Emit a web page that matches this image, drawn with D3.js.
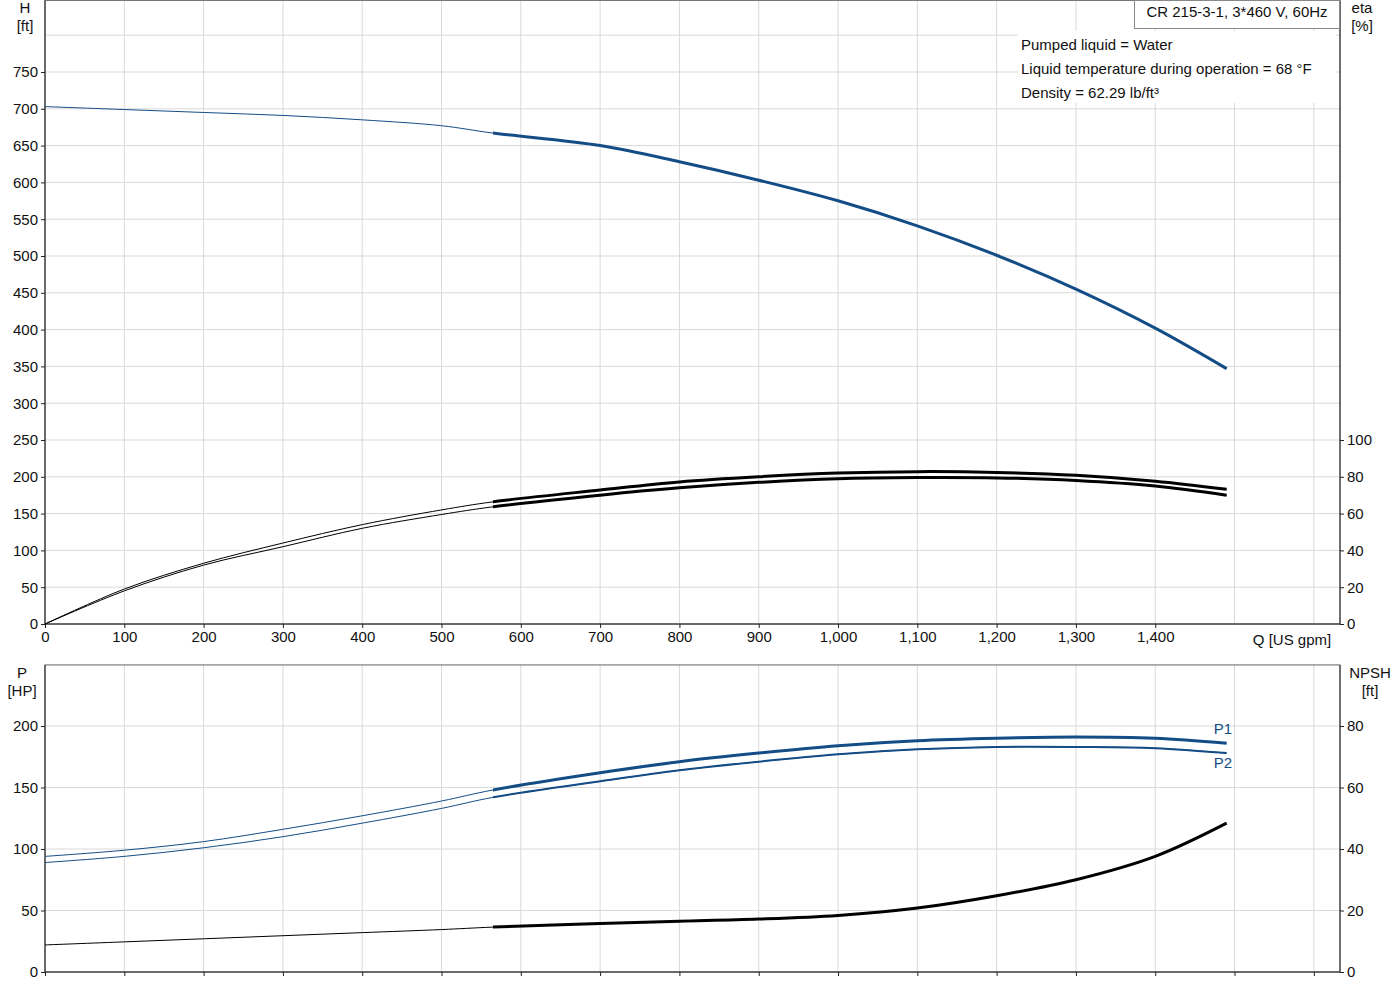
<!DOCTYPE html>
<html><head><meta charset="utf-8">
<script src="https://cdn.jsdelivr.net/npm/d3@7"></script>
<style>body{margin:0;background:#fff}text{font-family:Arial,"Liberation Sans",sans-serif;font-size:15px;fill:#111}</style>
</head><body><svg id="c" width="1400" height="1000"></svg>
<script>
const qTicks=[0,100,200,300,400,500,600,700,800,900,1000,1100,1200,1300,1400];
const qGrid=[0,100,200,300,400,500,600,700,800,900,1000,1100,1200,1300,1400,1500,1600];
const hTicks=[0,50,100,150,200,250,300,350,400,450,500,550,600,650,700,750];
const etaTicks=[0,20,40,60,80,100];
const pTicks=[0,50,100,150,200];
const npshTicks=[0,20,40,60,80];
const qPts=[0,100,200,300,400,500,565,700,800,900,1000,1100,1200,1300,1400,1490];
const H=[703,699,695,691,685,677,667,650,628,603,575,541,501,455,402,347];
const eta1=[0,19,33,44,54,62,66.4,72.8,77.2,80,82,82.8,82.4,80.8,77.6,73.2];
const eta2=[0,18,32,42,52,59.5,63.7,70,74,77,79,79.6,79.4,78,75,70];
const P1=[94,99,106,116,127,139,148,162,171,178,184,188,190,191,190,186];
const P2=[89,94,101,110,121,133,142,155,164,171,177,181,183,183,182,178];
const NPSH=[8.8,9.8,10.8,11.8,12.8,13.8,14.6,15.8,16.5,17.2,18.4,20.8,24.8,30,37.6,48.4];
const BREAK=565;
const svg=d3.select("#c");
const L=45,R=1340;
const x=d3.scaleLinear().domain([0,1633]).range([L,R]);
const yH=d3.scaleLinear().domain([0,750]).range([624,72]);
const yE=d3.scaleLinear().domain([0,100]).range([624,440]);
const yP=d3.scaleLinear().domain([0,200]).range([972,726]);
const yN=d3.scaleLinear().domain([0,80]).range([972,726]);
const grid="#d9d9d9";
svg.append("defs").append("clipPath").attr("id","thick").append("rect").attr("x",x(BREAK)).attr("y",0).attr("width",R-x(BREAK)).attr("height",1000);
function panel(top,bot,yl,lt){
  qGrid.forEach(q=>svg.append("line").attr("x1",x(q)).attr("x2",x(q)).attr("y1",top).attr("y2",bot).attr("stroke",grid));
  lt.forEach(v=>svg.append("line").attr("x1",L).attr("x2",R).attr("y1",yl(v)).attr("y2",yl(v)).attr("stroke",grid));
  svg.append("rect").attr("x",L).attr("y",top).attr("width",R-L).attr("height",bot-top).attr("fill","none").attr("stroke","#777");
  svg.append("line").attr("x1",L).attr("x2",R).attr("y1",bot).attr("y2",bot).attr("stroke","#222");
  svg.append("line").attr("x1",L).attr("x2",L).attr("y1",top).attr("y2",bot).attr("stroke","#222");
  svg.append("line").attr("x1",R).attr("x2",R).attr("y1",top).attr("y2",bot).attr("stroke","#222");
}
panel(0.5,624,yH,hTicks.concat([800]));
panel(665,972,yP,pTicks.concat([250]));
svg.append("g").attr("transform",`translate(${L},0)`).call(d3.axisLeft(yH).tickValues(hTicks).tickSize(4).tickFormat(d3.format("d")));
svg.append("g").attr("transform",`translate(${R},0)`).call(d3.axisRight(yE).tickValues(etaTicks).tickSize(4));
svg.append("g").attr("transform",`translate(0,624)`).call(d3.axisBottom(x).tickValues(qTicks).tickSize(4).tickFormat(d3.format(",")));
svg.append("g").attr("transform",`translate(${L},0)`).call(d3.axisLeft(yP).tickValues(pTicks).tickSize(4));
svg.append("g").attr("transform",`translate(${R},0)`).call(d3.axisRight(yN).tickValues(npshTicks).tickSize(4));
svg.append("g").attr("transform",`translate(0,972)`).call(d3.axisBottom(x).tickValues(qGrid).tickSize(4).tickFormat(""));
svg.selectAll(".domain").remove();
svg.selectAll(".tick text").style("font-size","15px").attr("fill","#111");
svg.selectAll(".tick line").attr("stroke","#222");
function curve(vals,y,color,w2){
  const pts=qPts.map((q,i)=>[q,vals[i]]);
  const d=d3.line().x(p=>x(p[0])).y(p=>y(p[1])).curve(d3.curveCatmullRom.alpha(0.5))(pts);
  svg.append("path").attr("d",d).attr("fill","none").attr("stroke",color).attr("stroke-width",1);
  svg.append("path").attr("d",d).attr("fill","none").attr("stroke",color).attr("stroke-width",w2).attr("clip-path","url(#thick)");
}
const blue="#144c86";
curve(H,yH,blue,3);
curve(eta1,yE,"#000",3);
curve(eta2,yE,"#000",3);
curve(P1,yP,blue,3);
curve(P2,yP,blue,2);
curve(NPSH,yN,"#000",3);
function t(s,xx,yy,a){svg.append("text").attr("x",xx).attr("y",yy).attr("text-anchor",a||"start").text(s);}
t("H",25,13,"middle");t("[ft]",25,31,"middle");
t("eta",1362,13,"middle");t("[%]",1362,31,"middle");
t("Q [US gpm]",1292,645,"middle");
t("P",22,678,"middle");t("[HP]",22,696,"middle");
t("NPSH",1370,678,"middle");t("[ft]",1370,696,"middle");
svg.append("text").attr("x",1223).attr("y",734).attr("text-anchor","middle").style("fill",blue).text("P1");
svg.append("text").attr("x",1223).attr("y",768).attr("text-anchor","middle").style("fill",blue).text("P2");
svg.append("rect").attr("x",1018).attr("y",31).attr("width",318).attr("height",72).attr("fill","#fff");
t("Pumped liquid = Water",1021,50);
t("Liquid temperature during operation = 68 °F",1021,74);
t("Density = 62.29 lb/ft³",1021,98);
svg.append("rect").attr("x",1134.5).attr("y",0.5).attr("width",205).attr("height",28).attr("fill","#fff").attr("stroke","#888");
t("CR 215-3-1, 3*460 V, 60Hz",1237,17,"middle");
</script></body></html>
